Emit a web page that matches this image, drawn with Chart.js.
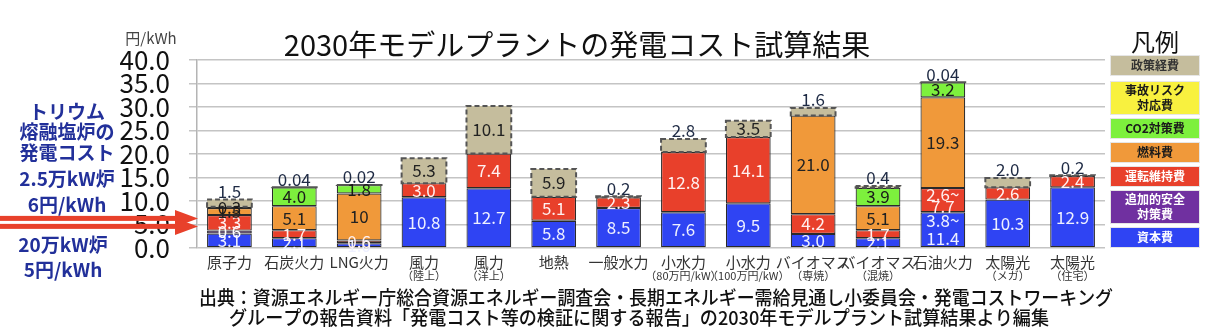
<!DOCTYPE html>
<html><head><meta charset="utf-8">
<script src="https://cdn.jsdelivr.net/npm/chart.js@4.4.1/dist/chart.umd.min.js"></script>
<style>html,body{margin:0;padding:0;background:#fff;overflow:hidden}canvas{display:block}</style>
</head><body><canvas id="c" width="1208" height="333"></canvas>
<script>
const categories = ['原子力','石炭火力','LNG火力','風力','風力','地熱','一般水力','小水力','小水力','バイオマス','バイオマス','石油火力','太陽光','太陽光'];
const subLabels = ['','','','（陸上）','（洋上）','','','（80万円/kW）','（100万円/kW）','（専焼）','（混焼）','','（メガ）','（住宅）'];
const yTicks = [0, 5, 10, 15, 20, 25, 30, 35, 40];

// series values (円/kWh)
const capital  = [3.1, 2.1, 1.0, 10.8, 12.7, 5.8, 8.5, 7.6, 9.5, 3.0, 2.1, 7.6, 10.3, 12.9];
const safety   = [0.6, null, null, null, null, null, null, null, null, null, null, null, null, null];
const om       = [3.3, 1.7, 0.6, 3.0, 7.4, 5.1, 2.3, 12.8, 14.1, 4.2, 1.7, 5.15, 2.6, 2.4];
const fuel     = [1.5, 5.1, 10, null, null, null, null, null, null, 21.0, 5.1, 19.3, null, null];
const co2      = [null, 4.0, 1.8, null, null, null, null, null, null, null, 3.9, 3.2, null, null];
const accident = [0.3, null, null, null, null, null, null, null, null, null, null, null, null, null];
const policy   = [1.5, 0.04, 0.02, 5.3, 10.1, 5.9, 0.2, 2.8, 3.5, 1.6, 0.4, 0.04, 2.0, 0.2];

// value label texts
const capitalText  = ['3.1','2.1','1.0','10.8','12.7','5.8','8.5','7.6','9.5','3.0','2.1','3.8~\n11.4','10.3','12.9'];
const safetyText   = ['0.6','','','','','','','','','','','','',''];
const omText       = ['3.3','1.7','0.6','3.0','7.4','5.1','2.3','12.8','14.1','4.2','1.7','2.6~\n7.7','2.6','2.4'];
const fuelText     = ['1.5','5.1','10','','','','','','','21.0','5.1','19.3','',''];
const co2Text      = ['','4.0','1.8','','','','','','','','3.9','3.2','',''];
const accidentText = ['0.3','','','','','','','','','','','','',''];
const policyText   = ['1.5','0.04','0.02','5.3','10.1','5.9','0.2','2.8','3.5','1.6','0.4','0.04','2.0','0.2'];

const seriesNames = ['資本費','追加的安全対策費','運転維持費','燃料費','CO2対策費','事故リスク対応費','政策経費'];
const legendLines = [['資本費'],['追加的安全','対策費'],['運転維持費'],['燃料費'],['CO2対策費'],['事故リスク','対応費'],['政策経費']];
const noteLines1 = ['トリウム','熔融塩炉の','発電コスト','2.5万kW炉','6円/kWh'];
const noteLines2 = ['20万kW炉','5円/kWh'];
const arrowValues = [6.3, 4.6];
const titleText = '2030年モデルプラントの発電コスト試算結果';
const sourceLines = ['出典：資源エネルギー庁総合資源エネルギー調査会・長期エネルギー需給見通し小委員会・発電コストワーキング',
                     'グループの報告資料「発電コスト等の検証に関する報告」の2030年モデルプラント試算結果より編集'];

const JP = '"Noto Sans CJK JP", "Noto Sans", sans-serif';
const colors = ['#2f44f3','#7030a0','#e8402b','#f0993a','#7df03d','#f8f13f','#c5bd9d'];
const textColors = ['#eef0ff','#ffffff','#fff0f0','#222222','#1a1a1a','#1a1a1a','#222222'];
const legendTextColors = ['#ffffff','#ffffff','#ffffff','#1a1a1a','#1a1a1a','#1a1a1a','#333333'];
const allData = [capital, safety, om, fuel, co2, accident, policy];
const allText = [capitalText, safetyText, omText, fuelText, co2Text, accidentText, policyText];
const POLICY = 6;

const datasets = allData.map((d, i) => ({
  label: seriesNames[i],
  data: d,
  backgroundColor: colors[i],
  borderColor: i === POLICY ? 'rgba(0,0,0,0)' : '#2a2a2a',
  borderWidth: i === POLICY ? 0 : 1.2,
  borderSkipped: false,
  stack: 's'
}));

const decor = {
  id: 'decor',
  afterDatasetsDraw(chart) {
    const ctx = chart.ctx;
    const pm = chart.getDatasetMeta(POLICY);
    ctx.save();
    ctx.setLineDash([5, 3]);
    ctx.strokeStyle = '#555';
    ctx.lineWidth = 2;
    pm.data.forEach((el, j) => {
      if (policy[j] == null) return;
      const w = el.width;
      ctx.strokeRect(el.x - w / 2, el.y, w, el.base - el.y);
    });
    ctx.restore();
    ctx.save();
    ctx.textAlign = 'center';
    ctx.textBaseline = 'middle';
    ctx.font = '17px ' + JP;
    allData.forEach((d, i) => {
      const meta = chart.getDatasetMeta(i);
      meta.data.forEach((el, j) => {
        const t = allText[i][j];
        if (d[j] == null || !t) return;
        let isTop = true;
        for (let k = i + 1; k < allData.length; k++) if (allData[k][j] != null) isTop = false;
        const h = el.base - el.y;
        let cy = (el.y + el.base) / 2;
        let col = textColors[i];
        if (isTop && h < 14) { cy = el.y - 8; col = '#1e2a44'; }
        ctx.fillStyle = col;
        const lines = t.split('\n');
        const lh = lines.length > 1 ? Math.min(20, h / 2) : 0;
        lines.forEach((ln, m) => {
          ctx.fillText(ln, el.x, cy + (m - (lines.length - 1) / 2) * lh);
        });
      });
    });
    ctx.restore();
  },
  afterDraw(chart) {
    const ctx = chart.ctx;
    const ca = chart.chartArea;
    const xs = chart.scales.x, ys = chart.scales.y;
    ctx.save();
    ctx.fillStyle = '#111';
    ctx.textAlign = 'center';
    ctx.textBaseline = 'middle';
    ctx.font = '29px ' + JP;
    ctx.fillText(titleText, 577, 45);
    ctx.font = '15px ' + JP;
    ctx.fillStyle = '#444';
    ctx.fillText('円/kWh', 151, 38);
    categories.forEach((c, i) => {
      const x = xs.getPixelForValue(i);
      ctx.fillStyle = '#333';
      ctx.font = '15px ' + JP;
      ctx.fillText(c, x, ca.bottom + 14);
      if (subLabels[i]) {
        ctx.font = '11px ' + JP;
        ctx.fillText(subLabels[i], x, ca.bottom + 28);
      }
    });
    ctx.fillStyle = '#111';
    ctx.font = '500 19px ' + JP;
    ctx.fillText(sourceLines[0], 656, 298, 914);
    ctx.fillText(sourceLines[1], 639, 318, 820);
    const lx = ca.right + 5, lw = 90;
    ctx.font = '24px ' + JP;
    ctx.fillStyle = '#111';
    ctx.fillText('凡例', lx + lw / 2, 42);
    let y = ca.top - 5;
    for (let i = seriesNames.length - 1; i >= 0; i--) {
      const lines = legendLines[i];
      const bh = lines.length > 1 ? 34 : 21;
      ctx.fillStyle = colors[i];
      ctx.fillRect(lx, y, lw, bh);
      ctx.strokeStyle = '#e6e6e6';
      ctx.lineWidth = 1;
      ctx.strokeRect(lx + 0.5, y + 0.5, lw - 1, bh - 1);
      ctx.fillStyle = legendTextColors[i];
      ctx.font = 'bold 12px ' + JP;
      lines.forEach((ln, m) => {
        ctx.fillText(ln, lx + lw / 2, y + bh / 2 + (m - (lines.length - 1) / 2) * 15);
      });
      y += bh + (i === seriesNames.length - 1 ? 5 : 3);
    }
    ctx.fillStyle = '#22309a';
    ctx.font = 'bold 19px ' + JP;
    const n1y = [112, 132, 153, 179, 205];
    noteLines1.forEach((t, i) => ctx.fillText(t, 67, n1y[i]));
    const n2y = [245, 270];
    noteLines2.forEach((t, i) => ctx.fillText(t, 63, n2y[i]));
    ctx.fillStyle = '#e8412b';
    arrowValues.forEach(v => {
      const ay = ys.getPixelForValue(v);
      const tip = ca.left + 1, hs = ca.left - 22;
      ctx.fillRect(0, ay - 2.5, hs + 2, 5);
      ctx.beginPath();
      ctx.moveTo(hs, ay - 8.5);
      ctx.lineTo(tip, ay);
      ctx.lineTo(hs, ay + 8.5);
      ctx.closePath();
      ctx.fill();
    });
    ctx.restore();
  }
};

new Chart(document.getElementById('c'), {
  type: 'bar',
  data: { labels: categories, datasets },
  options: {
    responsive: false,
    animation: false,
    devicePixelRatio: 1,
    layout: { padding: { top: 60, right: 103, left: 0, bottom: 0 } },
    plugins: { legend: { display: false }, tooltip: { enabled: false } },
    datasets: { bar: { categoryPercentage: 1, barPercentage: 0.69 } },
    scales: {
      x: {
        stacked: true,
        grid: { display: false },
        border: { display: false },
        ticks: { display: false },
        afterFit(s) { s.height = 85; }
      },
      y: {
        stacked: true,
        min: 0, max: 40,
        afterBuildTicks(s) { s.ticks = yTicks.map(v => ({ value: v })); },
        ticks: {
          autoSkip: false,
          padding: 19,
          color: '#111',
          font: { family: JP, size: 26 },
          callback: v => v.toFixed(1)
        },
        grid: { color: '#c4c4c4', lineWidth: 1.5, tickLength: 8 },
        border: { color: '#b4b4b4', width: 1.5 },
        afterFit(s) { s.width = 197; }
      }
    }
  },
  plugins: [decor]
});
</script>
</body></html>
